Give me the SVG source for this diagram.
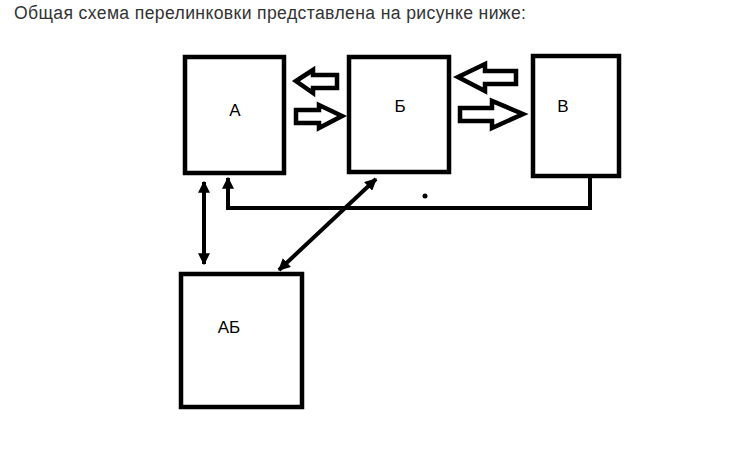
<svg xmlns="http://www.w3.org/2000/svg" width="729" height="449" viewBox="0 0 729 449">
<defs>
<style>
.title{font-family:"Liberation Sans",Arial,sans-serif;font-size:17.6px;fill:#333}
.lbl{font-family:"Liberation Sans",Arial,sans-serif;font-size:17px;fill:#000;text-anchor:middle}
.box{fill:#fff;stroke:#000;stroke-width:4.5}
.big{fill:#fff;stroke:#000;stroke-width:4.5;stroke-linejoin:miter}
.ln{fill:none;stroke:#000;stroke-width:4}
</style>
<marker id="ah" viewBox="0 0 10 10" refX="9" refY="5" markerWidth="3" markerHeight="3" orient="auto-start-reverse" markerUnits="strokeWidth">
<path d="M0,0 L10,5 L0,10 Z" fill="#000"/>
</marker>
</defs>
<rect width="729" height="449" fill="#fff"/>
<text class="title" x="14" y="19" textLength="512" lengthAdjust="spacing">Общая схема перелинковки представлена на рисунке ниже:</text>

<g id="connectors">
<path class="big" d="M296,81 L313,70 L313,75 L337,75 L337,88 L313,88 L313,93 Z"/>
<path class="big" d="M342,116 L319,105 L319,110 L296,110 L296,123 L319,123 L319,128 Z"/>
<path class="big" d="M458,77 L485,64 L485,71 L516,71 L516,84 L485,84 L485,91 Z"/>
<path class="big" d="M523,114 L492,101 L492,108 L460,108 L460,121 L492,121 L492,128 Z"/>
<path class="ln" d="M590,177 L590,208 L228,208 L228,178" marker-end="url(#ah)"/>
<line class="ln" x1="204" y1="182" x2="204" y2="264" marker-start="url(#ah)" marker-end="url(#ah)"/>
<line class="ln" x1="376" y1="179" x2="279" y2="270" marker-start="url(#ah)" marker-end="url(#ah)"/>
<circle cx="425" cy="196" r="2.5" fill="#000"/>
</g>

<g id="A">
<rect class="box" x="185" y="57" width="99" height="116"/>
<text class="lbl" x="235" y="116">А</text>
</g>
<g id="B">
<rect class="box" x="349" y="57" width="100" height="115"/>
<text class="lbl" x="400" y="112">Б</text>
</g>
<g id="V">
<rect class="box" x="533" y="56" width="86" height="120"/>
<text class="lbl" x="563" y="112">В</text>
</g>
<g id="AB">
<rect class="box" x="181" y="274" width="121" height="133"/>
<text class="lbl" x="229" y="333">АБ</text>
</g>
</svg>
